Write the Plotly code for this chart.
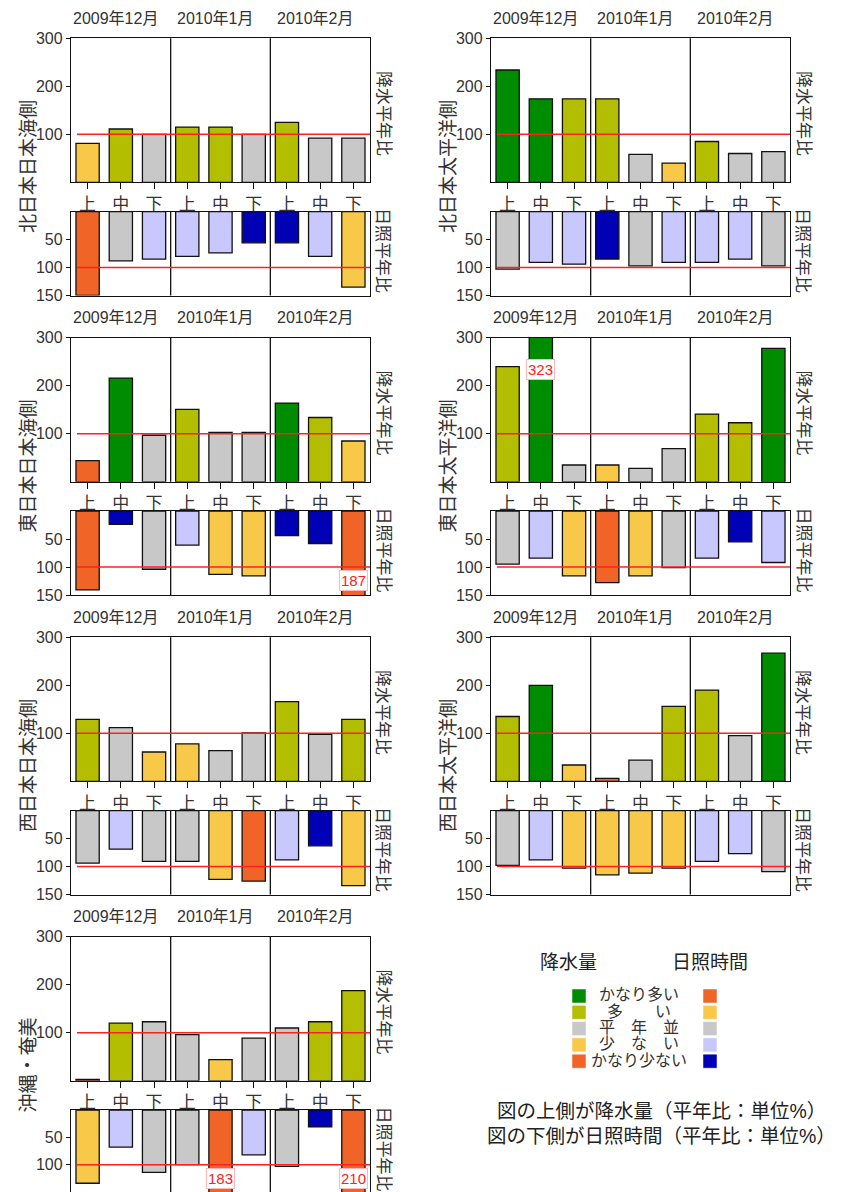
import plotly.graph_objects as go

# ---------------- data ----------------
regions = ["北日本日本海側", "北日本太平洋側", "東日本日本海側", "東日本太平洋側",
           "西日本日本海側", "西日本太平洋側", "沖縄・奄美"]
months = ["2009年12月", "2010年1月", "2010年2月"]
dekads = ["上", "中", "下"] * 3

# precipitation ratio to normal (%)
precip = [
    [81, 111, 100, 115, 115, 100, 125, 92, 92],
    [234, 174, 174, 174, 58, 40, 85, 60, 64],
    [44, 216, 97, 151, 103, 103, 164, 134, 85],
    [240, 323, 35, 35, 28, 69, 141, 123, 278],
    [129, 112, 61, 78, 64, 101, 166, 98, 129],
    [135, 200, 34, 6, 44, 156, 190, 95, 267],
    [3, 120, 123, 96, 44, 89, 110, 123, 188],
]
# precipitation class: 2 かなり多い, 1 多い, 0 平年並, -1 少ない, -2 かなり少ない
precip_cls = [
    [-1, 1, 0, 1, 1, 0, 1, 0, 0],
    [2, 2, 1, 1, 0, -1, 1, 0, 0],
    [-2, 2, 0, 1, 0, 0, 2, 1, -1],
    [1, 2, 0, -1, 0, 0, 1, 1, 2],
    [1, 0, -1, -1, 0, 0, 1, 0, 1],
    [1, 2, -1, -2, 0, 1, 1, 0, 2],
    [-2, 1, 0, 0, -1, 0, 0, 1, 1],
]
# sunshine ratio to normal (%)
sun = [
    [150, 88, 85, 80, 74, 56, 56, 80, 135],
    [103, 91, 94, 85, 97, 91, 91, 85, 97],
    [141, 24, 104, 61, 113, 116, 44, 58, 187],
    [95, 84, 116, 128, 116, 101, 84, 55, 92],
    [94, 69, 91, 91, 123, 126, 88, 63, 134],
    [98, 88, 103, 115, 112, 103, 91, 77, 109],
    [134, 68, 114, 100, 183, 82, 103, 31, 210],
]
sun_cls = [
    [2, 0, -1, -1, -1, -2, -2, -1, 1],
    [0, -1, -1, -2, 0, -1, -1, -1, 0],
    [2, -2, 0, -1, 1, 1, -2, -2, 2],
    [0, -1, 1, 2, 1, 0, -1, -2, -1],
    [0, -1, 0, 0, 1, 2, -1, -2, 1],
    [0, -1, 1, 1, 1, 1, -1, -1, 0],
    [1, -1, 0, 0, 2, -1, 0, -2, 2],
]

legend_labels = ["かなり多い", "多　　い", "平　年　並", "少　な　い", "かなり少ない"]
legend_cls = [2, 1, 0, -1, -2]

# ---------------- style ----------------
C_GREEN, C_OLIVE, C_GRAY = "#008C00", "#B4BE00", "#C8C8C8"
C_YELLOW, C_ORANGE = "#F8C848", "#F06428"
C_LBLUE, C_DBLUE = "#C8C8FF", "#0000B4"
precip_color = {2: C_GREEN, 1: C_OLIVE, 0: C_GRAY, -1: C_YELLOW, -2: C_ORANGE}
sun_color = {2: C_ORANGE, 1: C_YELLOW, 0: C_GRAY, -1: C_LBLUE, -2: C_DBLUE}

W, H = 841, 1192
FONT = "Liberation Sans, Arial, Noto Sans CJK JP, sans-serif"
TXT = "#333333"
P_MAX, S_MAX = 300, 150


def fx(px):
    return px / W


def fy(py):
    return max(0.0, min(1.0, 1 - py / H))


def sfx(n):
    return "" if n == 1 else str(n)


def note(text, x, y, size, color=TXT, **kw):
    d = dict(text=text, xref="paper", yref="paper", x=fx(x), y=fy(y),
             xanchor="center", yanchor="middle", showarrow=False,
             font=dict(size=size, color=color))
    d.update(kw)
    return d


fig = go.Figure()
layout = dict(width=W, height=H, margin=dict(l=0, r=0, t=0, b=0, autoexpand=False),
              plot_bgcolor="white", paper_bgcolor="white", showlegend=False,
              font=dict(family=FONT, color=TXT), bargap=0.3)
shapes, annots = [], []

ROW_DY = 299.5
for p, name in enumerate(regions):
    col, row = p % 2, p // 2
    x0, x1 = 71 + 420 * col, 370 + 420 * col
    oy = ROW_DY * row
    up_top, up_bot = 38.3 + oy, 182.3 + oy
    lo_top, lo_bot = 211.5 + oy, 295.5 + oy
    su, sl = sfx(2 * p + 1), sfx(2 * p + 2)
    xs = list(range(9))

    fig.add_trace(go.Bar(
        x=xs, y=precip[p], xaxis=f"x{su}", yaxis=f"y{su}", width=0.7,
        marker=dict(color=[precip_color[c] for c in precip_cls[p]],
                    line=dict(color="#111111", width=1.3)),
        hoverinfo="skip"))
    fig.add_trace(go.Bar(
        x=xs, y=sun[p], xaxis=f"x{sl}", yaxis=f"y{sl}", width=0.7,
        marker=dict(color=[sun_color[c] for c in sun_cls[p]],
                    line=dict(color="#111111", width=1.3)),
        hoverinfo="skip"))

    axline = dict(showline=True, mirror=True, linecolor="#111111", linewidth=1.3,
                  showgrid=False, zeroline=False, automargin=False, fixedrange=True)
    layout[f"xaxis{su}"] = dict(domain=[fx(x0), fx(x1)], anchor=f"y{su}",
                                range=[-0.5, 8.5], tickvals=xs, ticktext=dekads,
                                ticks="outside", ticklen=6, tickwidth=1.3,
                                tickcolor="#111111",
                                tickfont=dict(size=17, color=TXT), **axline)
    layout[f"yaxis{su}"] = dict(domain=[fy(up_bot), fy(up_top)], anchor=f"x{su}",
                                range=[0, P_MAX], tickvals=[100, 200, 300],
                                ticks="outside", ticklen=4, tickwidth=1.3,
                                tickcolor="#111111",
                                tickfont=dict(size=16, color=TXT), **axline)
    layout[f"xaxis{sl}"] = dict(domain=[fx(x0), fx(x1)], anchor=f"y{sl}",
                                range=[-0.5, 8.5], showticklabels=False, ticks="",
                                **axline)
    layout[f"yaxis{sl}"] = dict(domain=[fy(lo_bot), fy(lo_top)], anchor=f"x{sl}",
                                range=[S_MAX, 0], tickvals=[50, 100, 150],
                                ticks="outside", ticklen=4, tickwidth=1.3,
                                tickcolor="#111111",
                                tickfont=dict(size=16, color=TXT), **axline)

    for s in (su, sl):
        for xb in (2.5, 5.5):
            shapes.append(dict(type="line", xref=f"x{s}", yref=f"y{s} domain",
                               x0=xb, x1=xb, y0=0, y1=1,
                               line=dict(color="#111111", width=1.3)))
        shapes.append(dict(type="line", xref=f"x{s} domain", yref=f"y{s}",
                           x0=0.02, x1=1, y0=100, y1=100,
                           line=dict(color="#FF2020", width=1.5)))

    # month labels
    for m, lab in enumerate(months):
        annots.append(dict(text=lab, xref=f"x{su}", yref="paper",
                           x=3 * m + 0.85, y=fy(18 + oy), showarrow=False,
                           xanchor="center", yanchor="middle",
                           font=dict(size=16, color=TXT)))
    # titles
    annots.append(note(name, 28 + 420 * col, 167 + oy, 19, textangle=-90))
    annots.append(note("降水平年比", 383 + 420 * col, 113 + oy, 17, textangle=90))
    annots.append(note("日照平年比", 383 + 420 * col, 250 + oy, 17, textangle=90))

    # over-range value labels
    for i, v in enumerate(precip[p]):
        if v > P_MAX:
            annots.append(dict(text=str(v), xref=f"x{su}", yref=f"y{su}",
                               x=i, y=P_MAX * 0.78, showarrow=False,
                               xanchor="center", yanchor="middle",
                               bgcolor="white", bordercolor="#FFB8B8",
                               borderwidth=1, borderpad=1,
                               font=dict(size=15, color="#FF2020")))
    for i, v in enumerate(sun[p]):
        if v > S_MAX:
            annots.append(dict(text=str(v), xref=f"x{sl}", yref=f"y{sl}",
                               x=i, y=S_MAX * 0.83, showarrow=False,
                               xanchor="center", yanchor="middle",
                               bgcolor="white", bordercolor="#FFB8B8",
                               borderwidth=1, borderpad=1,
                               font=dict(size=15, color="#FF2020")))

# ---------------- legend ----------------
annots.append(note("降水量", 568, 962, 19, color="#222222"))
annots.append(note("日照時間", 710, 962, 19, color="#222222"))
for k, (lab, c) in enumerate(zip(legend_labels, legend_cls)):
    yc = 996 + 16.3 * k
    for xc, cmap in ((579, precip_color), (710, sun_color)):
        shapes.append(dict(type="rect", xref="paper", yref="paper",
                           x0=fx(xc - 7), x1=fx(xc + 7), y0=fy(yc + 7), y1=fy(yc - 7),
                           fillcolor=cmap[c], line=dict(color="white", width=0.5)))
    annots.append(note(lab, 639, yc - 1, 16))
annots.append(note("図の上側が降水量（平年比：単位%）", 661, 1111, 19.5, color="#222222"))
annots.append(note("図の下側が日照時間（平年比：単位%）", 661, 1136, 19.5, color="#222222"))

layout["shapes"] = shapes
layout["annotations"] = annots
fig.update_layout(**layout)

fig.write_html("out.html", config={"displayModeBar": False},
               post_script="document.body.style.margin='0';document.body.style.overflow='hidden';")
